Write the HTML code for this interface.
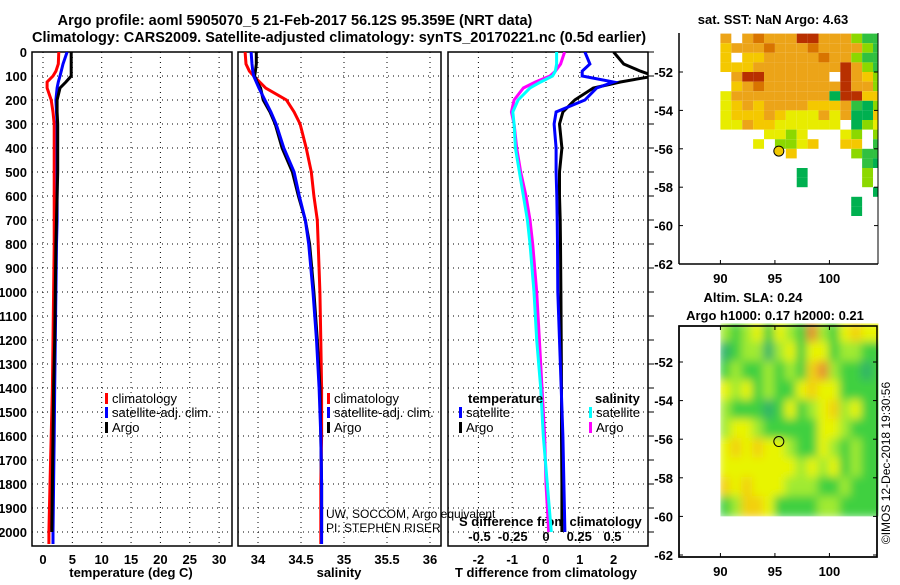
<!DOCTYPE html>
<html><head><meta charset="utf-8"><style>
body{margin:0;background:#fff}
svg text{font-family:"Liberation Sans",sans-serif}
.b{font-weight:bold;font-size:13px}
</style></head><body>
<svg id="c" width="900" height="580" xmlns="http://www.w3.org/2000/svg">
<text class="b" x="295" y="25" text-anchor="middle" style="font-size:14.5px">Argo profile: aoml 5905070_5 21-Feb-2017 56.12S 95.359E (NRT data)</text>
<text class="b" x="339" y="42" text-anchor="middle" style="font-size:14.5px">Climatology: CARS2009. Satellite-adjusted climatology: synTS_20170221.nc (0.5d earlier)</text>
<text class="b" x="773" y="24" text-anchor="middle">sat. SST: NaN Argo: 4.63</text>
<text class="b" x="753" y="302" text-anchor="middle">Altim. SLA: 0.24</text>
<text class="b" x="775" y="320" text-anchor="middle">Argo h1000: 0.17 h2000: 0.21</text>
<text x="890" y="463" font-size="12" text-anchor="middle" transform="rotate(-90 890 463)">©IMOS 12-Dec-2018 19:30:56</text>
<g id="g"></g>
</svg>
<script>
// ---- data ----
const depth      = [0,50,80,100,125,150,200,250,300,400,500,600,700,800,1000,1200,1400,1600,1800,2000,2050];
const tClim      = [2.7,2.6,2.2,1.7,0.7,0.7,1.4,1.7,1.9,1.9,1.9,1.9,1.9,1.9,1.8,1.7,1.6,1.4,1.2,1.0,1.0];
const tSat       = [4.1,3.4,3.1,2.9,2.6,2.4,2.2,2.3,2.4,2.4,2.4,2.4,2.4,2.3,2.2,2.1,2.0,1.9,1.8,1.7,1.7];
const tArgo      = [4.8,4.8,4.8,4.8,3.9,2.9,2.4,2.4,2.5,2.5,2.5,2.4,2.3,2.2,2.1,2.0,1.8,1.7,1.6,1.5,null];
const sClim      = [33.85,33.86,33.9,33.95,34.02,34.09,34.33,34.42,34.49,34.56,34.62,34.65,34.69,34.7,34.72,34.73,34.74,34.74,34.73,34.73,34.73];
const sSat       = [33.92,33.93,33.94,33.95,33.98,34.01,34.08,34.15,34.21,34.3,34.42,34.48,34.55,34.59,34.64,34.68,34.71,34.73,34.74,34.74,34.74];
const sArgo      = [33.98,33.98,33.97,33.96,33.99,34.03,34.06,34.14,34.2,34.28,34.4,34.47,34.55,34.6,34.65,34.69,34.72,34.73,34.74,34.74,null];
const dTSat      = [1.15,1.3,1.07,1.07,2.0,1.5,1.15,0.3,0.24,0.3,0.3,0.32,0.33,0.34,0.35,0.4,0.45,0.5,0.53,0.56,null];
const dTArgo     = [2.0,2.3,2.8,3.2,2.2,1.4,0.85,0.5,0.4,0.47,0.4,0.4,0.42,0.43,0.44,0.45,0.46,0.46,0.47,0.47,null];
const dSSat      = [0.08,0.08,0.07,0.05,-0.04,-0.12,-0.21,-0.25,-0.24,-0.23,-0.2,-0.17,-0.14,-0.12,-0.09,-0.07,-0.04,-0.02,0.01,0.04,null];
const dSArgo     = [0.14,0.11,0.07,0.03,-0.08,-0.17,-0.24,-0.26,-0.24,-0.22,-0.19,-0.15,-0.12,-0.1,-0.07,-0.05,-0.03,-0.01,0.0,0.02,null];
const depthTicks = [0,100,200,300,400,500,600,700,800,900,1000,1100,1200,1300,1400,1500,1600,1700,1800,1900,2000];
const tTicks     = [0,5,10,15,20,25,30];
const sTicks     = [34,34.5,35,35.5,36];
const dTTicks    = [-2,-1,0,1,2];
const dSTicks    = [-0.5,-0.25,0,0.25,0.5];
const dSTickLabels = ["-0.5","-0.25","0","0.25","0.5"];
const sstRows = [
"....O.OrOOORROOOlgg",
"....oOOOrOOOrOOOOlg",
"....o.ooOOOOOrOOlgg",
"....oooOOOOOOOOROlg",
".....ORROOOOOO.ROol",
".....oOrOOOOOOOROOl",
"....yOOOOOOOOOGRRoo",
"....yoOoOOOOoooOgGl",
"....yoooOoyyyOyOGGo",
"....yyOooyyyyyy.Gly",
"........yyly...yl.l",
".......y.llyo..oo.g",
"..........o.....lgg",
".................gG",
"...........G.....l.",
"...........G.....l.",
"..................G",
"................G..",
"................G.."];
const slaRows = [
[2,1,2,3,1,3,2,1,5,2,1,3,4,3,3],
[0,1,2,2,0,2,3,1,3,3,1,2,2,1,1],
[1,2,1,1,2,1,2,1,4,5,2,1,1,0,1],
[3,2,3,1,2,1,1,3,4,3,3,1,1,1,1],
[2,1,1,1,0,1,3,1,2,3,4,2,3,1,1],
[2,3,3,2,1,1,1,1,1,3,3,2,1,1,1],
[3,4,3,4,3,3,2,1,1,3,2,1,2,1,1],
[3,3,3,3,3,3,3,2,3,2,3,1,2,1,1],
[4,3,4,3,3,3,2,2,2,1,1,2,1,1,1],
[1,2,4,4,3,1,1,1,1,2,2,1,1,1,1]];
const argoLon = 95.359, argoLat = -56.12;

// ---- scales ----
const NS="http://www.w3.org/2000/svg", G=document.getElementById('g');
const yOf = p => 52 + p*0.24;
const xT = t => 43 + 5.87*t;
const xS = s => 258 + 86*(s-34);
const xD = d => 546 + 33.8*d;
const xDS = s => 546 + 133*s;
const m1x = lon => 679 + (lon-86.2)*10.9, m1y = lat => 72 + (-52-lat)*19.2;
const m2x = lon => 679 + (lon-86.2)*10.9, m2y = lat => 362 + (-52-lat)*19.3;
function el(tag, a, parent){const e=document.createElementNS(NS,tag);for(const k in a)e.setAttribute(k,a[k]);(parent||G).appendChild(e);return e;}
function txt(x,y,s,a){const e=el('text',Object.assign({x:x,y:y},a||{}));e.textContent=s;return e;}

const defs=el('defs',{});
const panels=[[32,232,'temperature'],[238,441,'salinity'],[448,648,'difference']];
panels.forEach((p,i)=>{
  const cp=el('clipPath',{id:'cp'+i},defs); el('rect',{x:p[0],y:52,width:p[1]-p[0],height:494},cp);
});
const cm1=el('clipPath',{id:'cm1'},defs); el('rect',{x:679,y:33,width:199,height:231},cm1);
const bl=el('filter',{id:'blur',x:'-20%',y:'-20%',width:'140%',height:'140%'},defs); el('feGaussianBlur',{stdDeviation:'4.5'},bl);

// grids & frames
panels.forEach((p,i)=>{
  const f=el('g',{});
  
  
  depthTicks.forEach(d=>{ if(d>0) el('line',{x1:p[0],x2:p[1],y1:yOf(d),y2:yOf(d),stroke:'#000','stroke-dasharray':'1,4','stroke-width':1},f);});
  const xs = i==0?tTicks.map(xT):i==1?sTicks.map(xS):dTTicks.map(xD);
  xs.forEach(x=>el('line',{x1:x,x2:x,y1:52,y2:546,stroke:'#000','stroke-dasharray':'1,4'},f));
  el('rect',{x:p[0],y:52,width:p[1]-p[0],height:494,fill:'none',stroke:'#000','stroke-width':1.5},f);
});
// depth labels
depthTicks.forEach(d=>{
  const t=txt(27,yOf(d)+5,String(d),{'text-anchor':'end',class:'b'});
  
  
  el('line',{x1:648,x2:654,y1:yOf(d),y2:yOf(d),stroke:'#000'});
});
tTicks.forEach(v=>{const t=txt(xT(v),564,String(v),{'text-anchor':'middle',class:'b'});});
sTicks.forEach(v=>{const t=txt(xS(v),564,String(v),{'text-anchor':'middle',class:'b'});});
dTTicks.forEach(v=>{const t=txt(xD(v),564,String(v),{'text-anchor':'middle',class:'b'});});
dSTicks.forEach((v,i)=>{const t=txt(xDS(v),541,dSTickLabels[i],{'text-anchor':'middle',class:'b'});});
[['temperature (deg C)',131,'x-axis-title-temperature'],['salinity',339,'x-axis-title-salinity'],['T difference from climatology',546,'x-axis-title-t-diff']].forEach(a=>{
  const t=txt(a[1],577,a[0],{'text-anchor':'middle',class:'b'});});
{const t=txt(459,526,'S difference from climatology',{class:'b'});}
{const t=txt(326,518,'UW, SOCCOM, Argo equivalent',{'font-size':12});}
{const t=txt(326,532,'PI: STEPHEN RISER',{'font-size':12});}

// series
function line(vals, xf, color, clip, name){
  let d='';
  vals.forEach((v,i)=>{ if(v===null) return; d+=(d?'L':'M')+xf(v).toFixed(1)+','+yOf(depth[i]).toFixed(1);});
  const p=el('path',{d:d,fill:'none',stroke:color,'stroke-width':3,'clip-path':'url(#'+clip+')'});
  
  
}
line(tClim,xT,'#f00','cp0','temp-climatology-line');
line(tSat,xT,'#00f','cp0','temp-satellite-line');
line(tArgo,xT,'#000','cp0','temp-argo-line');
line(sClim,xS,'#f00','cp1','sal-climatology-line');
line(sArgo,xS,'#000','cp1','sal-argo-line');
line(sSat,xS,'#00f','cp1','sal-satellite-line');
line(dTArgo,xD,'#000','cp2','tdiff-argo-line');
line(dTSat,xD,'#00f','cp2','tdiff-satellite-line');
line(dSArgo,xDS,'#f0f','cp2','sdiff-argo-line');
line(dSSat,xDS,'#0ff','cp2','sdiff-satellite-line');

// legends
function leg(x,y,color,label,name){
  const g=el('g',{});
  
  
  el('rect',{x:x,y:y-10,width:3,height:11,fill:color},g);
  const t=el('text',{x:x+7,y:y,'font-size':13},g); t.textContent=label;
}
leg(105,403,'#f00','climatology','legend-entry-climatology');
leg(105,417,'#00f','satellite-adj. clim.','legend-entry-satellite');
leg(105,432,'#000','Argo','legend-entry-argo');
leg(327,403,'#f00','climatology','legend-entry-climatology-2');
leg(327,417,'#00f','satellite-adj. clim.','legend-entry-satellite-2');
leg(327,432,'#000','Argo','legend-entry-argo-2');
{const t=txt(468,403,'temperature',{class:'b'});}
{const t=txt(595,403,'salinity',{class:'b'});}
leg(459,417,'#00f','satellite','legend-entry-t-satellite');
leg(459,432,'#000','Argo','legend-entry-t-argo');
leg(589,417,'#0ff','satellite','legend-entry-s-satellite');
leg(589,432,'#f0f','Argo','legend-entry-s-argo');

// SST map
const sstCol={y:'#e8ec00',o:'#f4c800',O:'#eca418',r:'#d87400',R:'#b83000',g:'#30c040',G:'#00b050',l:'#8cd800'};
const m1=el('g',{'clip-path':'url(#cm1)'});


sstRows.forEach((row,r)=>{ for(let c=0;c<row.length;c++){ const k=row[c]; if(k==='.')continue;
  const lon=86+c, lat=-50-0.5*r;
  const cell=el('rect',{x:m1x(lon),y:m1y(lat),width:10.9,height:9.6,fill:sstCol[k]},m1);
  
  
}});
el('circle',{cx:m1x(argoLon),cy:m1y(argoLat),r:5,fill:'#f0c800',stroke:'#000'});
el('line',{x1:679,x2:679,y1:33,y2:264,stroke:'#000','stroke-width':1.5});
el('line',{x1:679,x2:878,y1:264,y2:264,stroke:'#000','stroke-width':1.5});
el('line',{x1:878,x2:878,y1:33,y2:264,stroke:'#000'});
// SLA map
const slaCol=['#30b468','#40d040','#a0ea30','#e8f400','#f2d010','#e89030'];
el('rect',{x:679,y:326,width:198,height:231,fill:'#fff',stroke:'#000','stroke-width':1.5});
const cm3=el('clipPath',{id:'cm3'},defs); el('rect',{x:m2x(90),y:m2y(-50),width:m2x(104.5)-m2x(90),height:m2y(-60)-m2y(-50)},cm3);
const m2=el('g',{'clip-path':'url(#cm3)'});


const m2b=el('g',{filter:'url(#blur)'},m2);
slaRows.forEach((row,r)=>row.forEach((v,c)=>{
  const lon=90+c, lat=-50-r;
  const cell=el('rect',{x:m2x(lon)-1,y:m2y(lat)-1,width:12.9,height:21.3,fill:slaCol[v]},m2b);
  
  
}));
el('circle',{cx:m2x(argoLon),cy:m2y(argoLat),r:5,fill:'none',stroke:'#000'});
el('rect',{x:679,y:326,width:198,height:231,fill:'none',stroke:'#000','stroke-width':1.5});
// map ticks/labels
[-52,-54,-56,-58,-60,-62].forEach(lat=>{
  let t=txt(673,m1y(lat)+5,String(lat),{'text-anchor':'end',class:'b'});
  t=txt(673,m2y(lat)+5,String(lat),{'text-anchor':'end',class:'b'});
  el('line',{x1:679,x2:683,y1:m1y(lat),y2:m1y(lat),stroke:'#000'});
  el('line',{x1:679,x2:683,y1:m2y(lat),y2:m2y(lat),stroke:'#000'});
  el('line',{x1:874,x2:878,y1:m1y(lat),y2:m1y(lat),stroke:'#000'});
  el('line',{x1:873,x2:877,y1:m2y(lat),y2:m2y(lat),stroke:'#000'});
});
[90,95,100].forEach(lon=>{
  let t=txt(m1x(lon),283,String(lon),{'text-anchor':'middle',class:'b'});
  t=txt(m2x(lon),576,String(lon),{'text-anchor':'middle',class:'b'});
  el('line',{x1:m1x(lon),x2:m1x(lon),y1:260,y2:264,stroke:'#000'});
  el('line',{x1:m2x(lon),x2:m2x(lon),y1:326,y2:330,stroke:'#000'});
  el('line',{x1:m2x(lon),x2:m2x(lon),y1:553,y2:557,stroke:'#000'});
});
</script>
</body></html>
